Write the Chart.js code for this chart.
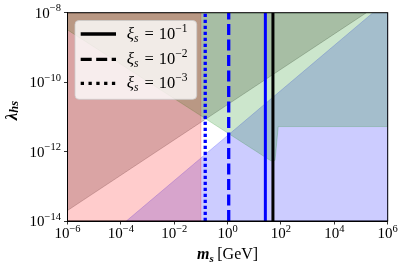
<!DOCTYPE html>
<html>
<head>
<meta charset="utf-8">
<script src="https://cdn.jsdelivr.net/npm/chart.js@4.4.0/dist/chart.umd.min.js"></script>
<style>
  html, body { margin: 0; padding: 0; background: #fff; }
</style>
</head>
<body>
<canvas id="chart" width="406" height="270"></canvas>
<script>
// axis ticks
const xTicks = [1e-6, 1e-4, 1e-2, 1, 1e2, 1e4, 1e6];
const yTicks = [1e-14, 1e-12, 1e-10, 1e-8];

// excluded regions, vertices as [m_s, lambda_hs]
const redRegion = [[1e-6, 1e-14], [0.1, 1e-14], [0.1, 1e-8], [1e-6, 1e-8]];
const grayRegion = [[1e-6, 2e-14], [1.6e5, 1e-8], [1e-6, 1e-8]];
const greenRegion = [[1e-6, 3.2e-9], [42, 5.4e-13], [60, 5.6e-13], [79, 5.25e-12], [1e6, 5.25e-12], [1e6, 1e-8], [1e-6, 1e-8]];
const blueRegion = [[1.6e-4, 1e-14], [2.8e5, 1e-8], [1e6, 1e-8], [1e6, 1e-14]];

// vertical mass lines: dotted, dashed, solid (xi_s = 1e-3, 1e-2, 1e-1)
const blueMasses = [0.145, 1.1, 26];
const blackMasses = [50];

// legend
const xiExponents = ["−1", "−2", "−3"];

const serif = "'Liberation Serif', 'DejaVu Serif', serif";
const dotted = [3.2, 2.8];
const dashed = [11, 4.5];

function poly(pts, color, order) {
    return {
        data: pts.concat([pts[0]]).map((p) => ({ x: p[0], y: p[1] })),
        fill: "shape",
        backgroundColor: color,
        borderColor: color,
        borderWidth: 1,
        pointRadius: 0,
        order: order,
    };
}

function vline(m, color, dash, width) {
    return {
        data: [{ x: m, y: 1e-14 }, { x: m, y: 1e-8 }],
        borderColor: color,
        borderWidth: width,
        borderDash: dash,
        borderCapStyle: "butt",
        pointRadius: 0,
        fill: false,
        order: 0,
    };
}

// draw text pieces one after another: [text, font, dy, gapBefore]
function drawParts(ctx, parts, x, y, align) {
    let w = 0;
    parts.forEach((p) => {
        ctx.font = p[1];
        w += ctx.measureText(p[0]).width + (p[3] || 0);
    });
    let cx = align == "center" ? x - w / 2 : align == "right" ? x - w : x;
    parts.forEach((p) => {
        ctx.font = p[1];
        cx += p[3] || 0;
        ctx.fillText(p[0], cx, y + (p[2] || 0));
        cx += ctx.measureText(p[0]).width;
    });
}

function expText(v) {
    const e = Math.round(Math.log10(v));
    return e < 0 ? "−" + -e : "" + e;
}

const mathPlugin = {
    id: "math",
    afterDatasetsDraw(chart) {
        const { ctx } = chart;
        ctx.save();
        // legend box
        const lx = 75, ly = 20.5, lw = 121.7, lh = 78.8, r = 4;
        ctx.beginPath();
        ctx.roundRect(lx, ly, lw, lh, r);
        ctx.fillStyle = "rgba(255,255,255,0.8)";
        ctx.fill();
        ctx.strokeStyle = "rgba(204,204,204,0.8)";
        ctx.lineWidth = 1;
        ctx.stroke();

        const rows = [34, 59.3, 83.3];
        const styles = [[], dashed, [3.3, 4.5]];
        ctx.fillStyle = "#000";
        rows.forEach((ry, i) => {
            ctx.beginPath();
            ctx.setLineDash(styles[i]);
            ctx.lineCap = "butt";
            ctx.strokeStyle = "#000";
            ctx.lineWidth = 3.3;
            ctx.moveTo(80.7, ry);
            ctx.lineTo(116, ry);
            ctx.stroke();
            ctx.setLineDash([]);
            drawParts(ctx, [
                ["ξ", "italic 17px " + serif, 0],
                ["s", "italic 11.5px " + serif, 3.5],
                ["=", "16.5px " + serif, 0, 6],
                ["10", "16.5px " + serif, 0, 5],
                [xiExponents[i], "11.5px " + serif, -7],
            ], 126.7, ry + 4.5, "left");
        });
        ctx.restore();
    },
    afterDraw(chart) {
        const { ctx, chartArea: a, scales } = chart;
        ctx.save();
        ctx.strokeStyle = "#000";
        ctx.lineWidth = 1;
        ctx.strokeRect(a.left, a.top, a.right - a.left, a.bottom - a.top);

        ctx.fillStyle = "#000";
        ctx.textBaseline = "alphabetic";
        scales.x.ticks.forEach((t) => {
            const px = scales.x.getPixelForValue(t.value);
            drawParts(ctx, [
                ["10", "15px " + serif, 0],
                [expText(t.value), "10.5px " + serif, -6.5],
            ], px, 238, "center");
        });
        scales.y.ticks.forEach((t) => {
            const py = scales.y.getPixelForValue(t.value);
            drawParts(ctx, [
                ["10", "15px " + serif, 0],
                [expText(t.value), "10.5px " + serif, -6.5],
            ], 61, py + 5, "right");
        });

        // axis titles
        drawParts(ctx, [
            ["m", "bold italic 16px " + serif, 0],
            ["s", "bold italic 11px " + serif, 3],
            ["[GeV]", "16px " + serif, 0, 3.5],
        ], (a.left + a.right) / 2, 258.5, "center");

        ctx.translate(16.5, 110.5);
        ctx.rotate(-Math.PI / 2);
        drawParts(ctx, [
            ["λ", "bold italic 17px " + serif, 0],
            ["hs", "bold italic 12.5px " + serif, 1.5],
        ], 0, 0, "center");
        ctx.restore();
    },
};

const tickGrid = {
    drawOnChartArea: false,
    drawTicks: true,
    tickLength: 3.5,
    color: "#000",
    lineWidth: 0.8,
};

// higher order is painted first: blue, then gray, green, red on top
const config = {
    type: "line",
    data: {
        datasets: [
            vline(blueMasses[0], "#0000ff", dotted, 3.3),
            vline(blueMasses[1], "#0000ff", dashed, 3.3),
            vline(blueMasses[2], "#0000ff", [], 3),
            vline(blackMasses[0], "#000000", [], 3),
            poly(blueRegion, "rgba(0,0,255,0.2)", 4),
            poly(grayRegion, "rgba(20,0,0,0.2)", 3),
            poly(greenRegion, "rgba(0,128,0,0.2)", 2),
            poly(redRegion, "rgba(255,0,0,0.2)", 1),
        ],
    },
    options: {
        responsive: false,
        devicePixelRatio: 1,
        animation: false,
        events: [],
        layout: {
            padding: { top: 12.7, right: 18.3, left: 0, bottom: 0 },
        },
        scales: {
            x: {
                type: "logarithmic",
                min: 1e-6,
                max: 1e6,
                afterBuildTicks: (s) => {
                    s.ticks = xTicks.map((v) => ({ value: v }));
                },
                afterFit: (s) => {
                    s.height = 49;
                },
                ticks: { display: false },
                grid: tickGrid,
                border: { display: true, color: "#000", width: 1 },
            },
            y: {
                type: "logarithmic",
                min: 1e-14,
                max: 1e-8,
                afterBuildTicks: (s) => {
                    s.ticks = yTicks.map((v) => ({ value: v }));
                },
                afterFit: (s) => {
                    s.width = 67.5;
                },
                ticks: { display: false },
                grid: tickGrid,
                border: { display: true, color: "#000", width: 1 },
            },
        },
        plugins: {
            legend: { display: false },
            tooltip: { enabled: false },
        },
    },
    plugins: [mathPlugin],
};

const chart = new Chart(document.getElementById("chart"), config);
</script>
</body>
</html>
